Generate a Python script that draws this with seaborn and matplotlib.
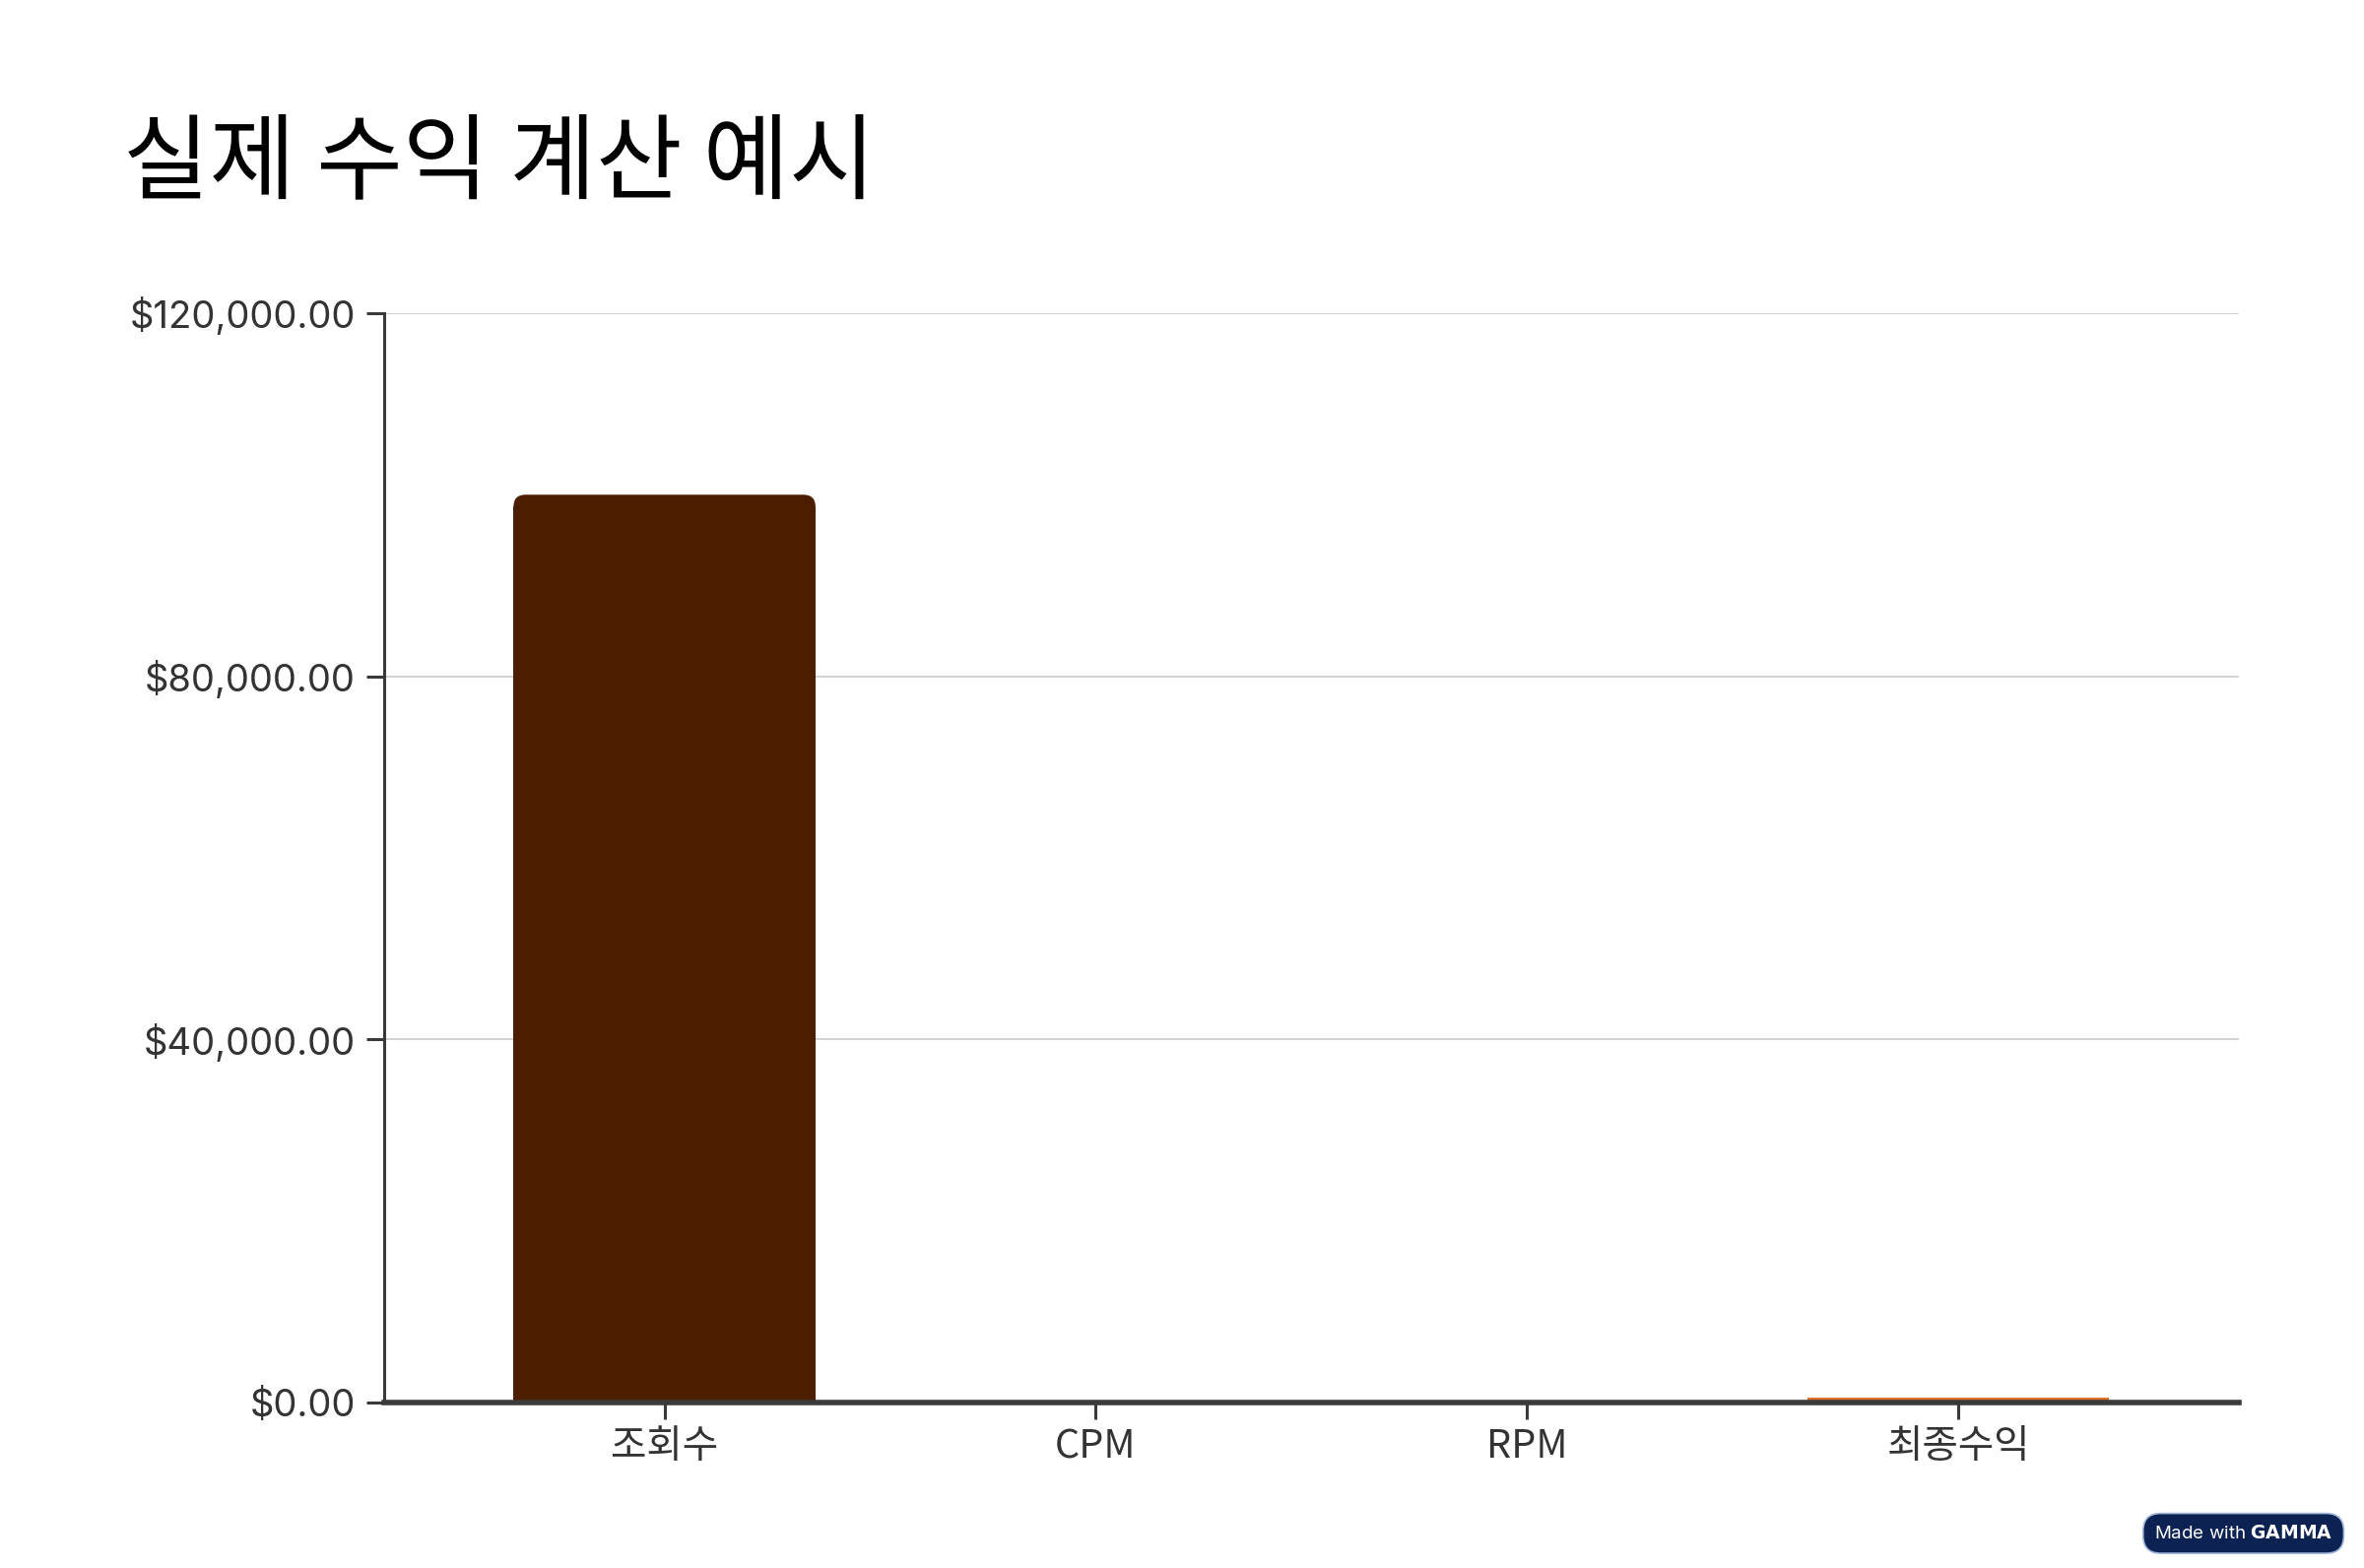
import matplotlib
matplotlib.use("Agg")
import matplotlib.pyplot as plt
import matplotlib.ticker as mticker
from matplotlib.patches import FancyBboxPatch
import seaborn as sns
import pandas as pd

categories = ["조회수", "CPM", "RPM", "최종수익"]
values = [100000, 5, 3, 500]
colors = ["#4D1D00", "#8A3A10", "#B5541C", "#E0712E"]
title = "실제 수익 계산 예시"
yticks = [0, 40000, 80000, 120000]

sns.set_theme(style="white")
plt.rcParams["font.family"] = ["Inter", "Noto Sans CJK KR", "DejaVu Sans"]

df = pd.DataFrame({"cat": categories, "val": values})

fig = plt.figure(figsize=(24, 15.92), dpi=100)
ax = fig.add_axes([0.1625, 0.1055, 0.7845, 0.6948])

sns.barplot(data=df, x="cat", y="val", hue="cat", palette=colors,
            width=0.7, legend=False, ax=ax, zorder=3, saturation=1,
            linewidth=0, edgecolor="none")

ax.set_ylim(0, 120000)
ax.set_xlim(-0.65, 3.65)

# rounded top corners derived from the library's bars
r_x = 0.028
r_y = 1300.0
for p in list(ax.patches):
    p.set_linewidth(0)
    p.set_edgecolor("none")
    x, y = p.get_x(), p.get_y()
    w, h = p.get_width(), p.get_height()
    fc = p.get_facecolor()
    if h > 4 * r_y:
        p.set_height(h - r_y)
        rp = FancyBboxPatch((x, y + h - 2 * r_y), w, 2 * r_y,
                            boxstyle=f"round,pad=0,rounding_size={r_x}",
                            mutation_aspect=r_y / r_x,
                            facecolor=fc, edgecolor="none", linewidth=0, zorder=3)
        ax.add_patch(rp)

ax.set_yticks(yticks)
ax.yaxis.set_major_formatter(mticker.FuncFormatter(lambda v, pos: f"${v:,.2f}"))
ax.grid(axis="y", color="#d4d4d4", linewidth=1.5, zorder=0)
ax.set_axisbelow(True)
ax.set_xlabel("")
ax.set_ylabel("")

for s in ["top", "right"]:
    ax.spines[s].set_visible(False)
ax.spines["left"].set_color("#3a3a3a")
ax.spines["left"].set_linewidth(2.2)
ax.spines["bottom"].set_color("#3a3a3a")
ax.spines["bottom"].set_linewidth(4.0)
for s in ["left", "bottom"]:
    ax.spines[s].set_zorder(4)

ax.tick_params(axis="both", bottom=True, left=True, colors="#3a3a3a", width=2.2,
               direction="out", labelcolor="#333333")
ax.tick_params(axis="y", length=13, pad=8, labelsize=27.5)
ax.tick_params(axis="x", length=12, pad=6, labelsize=28.5)
for lbl in ax.get_xticklabels():
    lbl.set_fontfamily(["Noto Sans CJK KR", "DejaVu Sans"])

fig.text(0.052, 0.895, title, fontsize=68.5, color="black",
         family=["Noto Sans CJK KR", "DejaVu Sans"], va="center", ha="left")

fig.text(0.949, 0.0221, "Made with $\\bf{GAMMA}$", fontsize=13.5, color="white",
         ha="center", va="center",
         bbox=dict(boxstyle="round,pad=0.6,rounding_size=0.95", facecolor="#0B2252",
                   edgecolor="#9fb6d9", linewidth=1.2))

fig.savefig("out.png", dpi=100, facecolor="white")
